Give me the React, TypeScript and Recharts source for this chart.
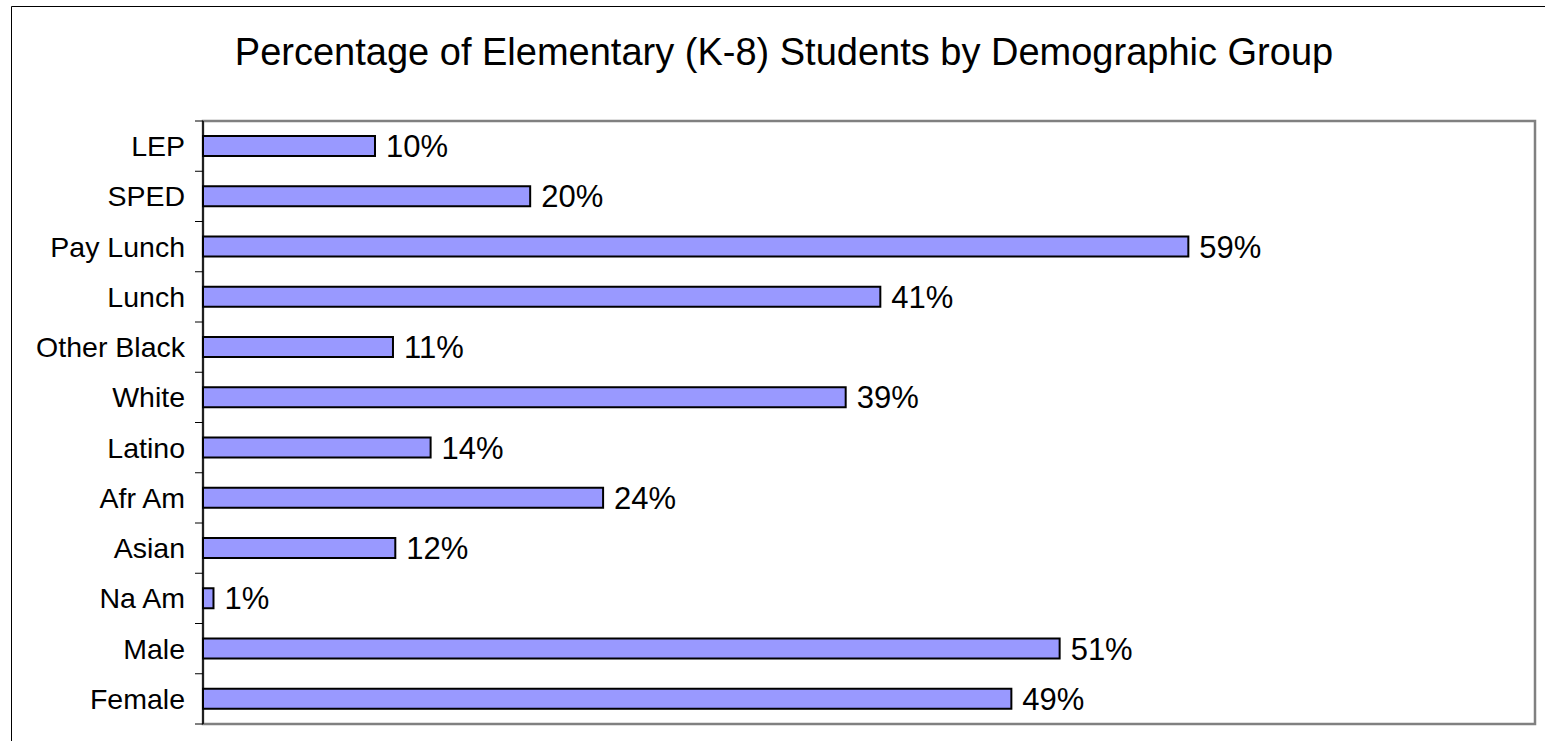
import React from "react";
import { BarChart, Bar, XAxis, YAxis, ReferenceArea, LabelList } from "recharts";

const categories = ["LEP", "SPED", "Pay Lunch", "Lunch", "Other Black", "White", "Latino", "Afr Am", "Asian", "Na Am", "Male", "Female"];
const percentValues = [10.33, 19.65, 59.18, 40.68, 11.41, 38.6, 13.67, 24.03, 11.55, 0.63, 51.45, 48.55];
const xDomainMax = 80;

const data = categories.map((name, i) => ({ name, value: percentValues[i] }));

const W = 1545;
const H = 741;
const PLOT_LEFT = 203;
const PLOT_TOP = 121;
const PLOT_RIGHT = 1535;
const PLOT_BOTTOM = 724;
const BAND = (PLOT_BOTTOM - PLOT_TOP) / categories.length;
const FONT = "'Liberation Sans', Arial, Helvetica, sans-serif";

const CategoryTick = (props: any) => {
  const { x, y, payload, index } = props;
  const isLast = index === categories.length - 1;
  return (
    <g>
      <line x1={PLOT_LEFT - 8} x2={PLOT_LEFT} y1={y - BAND / 2} y2={y - BAND / 2} stroke="#000" strokeWidth={1} />
      {isLast && (
        <line x1={PLOT_LEFT - 8} x2={PLOT_LEFT} y1={y + BAND / 2} y2={y + BAND / 2} stroke="#000" strokeWidth={1} />
      )}
      <text x={x} y={y} dy="0.355em" textAnchor="end" fill="#000" fontSize={28.5} fontFamily={FONT}>
        {payload.value}
      </text>
    </g>
  );
};

const formatPct = (v: any) => `${Math.round(Number(v))}%`;

export default function App() {
  return (
    <div style={{ position: "absolute", left: 0, top: 0, width: W, height: H, background: "#fff" }}>
      <BarChart
        width={W}
        height={H}
        data={data}
        layout="vertical"
        margin={{ top: PLOT_TOP, right: W - PLOT_RIGHT, bottom: H - PLOT_BOTTOM, left: 0 }}
        barCategoryGap={0}
      >
        <XAxis type="number" domain={[0, xDomainMax]} hide />
        <YAxis
          type="category"
          dataKey="name"
          width={PLOT_LEFT}
          axisLine={{ stroke: "#000", strokeWidth: 1.5 }}
          tickLine={false}
          tickSize={8}
          tickMargin={10}
          interval={0}
          tick={<CategoryTick />}
        />
        <ReferenceArea
          x1={0}
          x2={xDomainMax}
          y1={categories[0]}
          y2={categories[categories.length - 1]}
          fill="none"
          stroke="#808080"
          strokeWidth={2.5}
          fillOpacity={0}
          ifOverflow="visible"
        />
        <Bar dataKey="value" fill="#9999FF" stroke="#000" strokeWidth={2} barSize={20} isAnimationActive={false}>
          <LabelList
            dataKey="value"
            position="right"
            offset={11}
            formatter={formatPct}
            fill="#000"
            fontSize={31}
            fontFamily={FONT}
          />
        </Bar>
      </BarChart>
      <svg width={W} height={H} style={{ position: "absolute", left: 0, top: 0, pointerEvents: "none" }}>
        <line x1={11.5} y1={6.5} x2={W} y2={6.5} stroke="#000" strokeWidth={1} />
        <line x1={11.5} y1={6.5} x2={11.5} y2={H} stroke="#000" strokeWidth={1} />
        <text x={784} y={65} textAnchor="middle" fontSize={38} fontFamily={FONT} fill="#000">
          Percentage of Elementary (K-8) Students by Demographic Group
        </text>
      </svg>
    </div>
  );
}
